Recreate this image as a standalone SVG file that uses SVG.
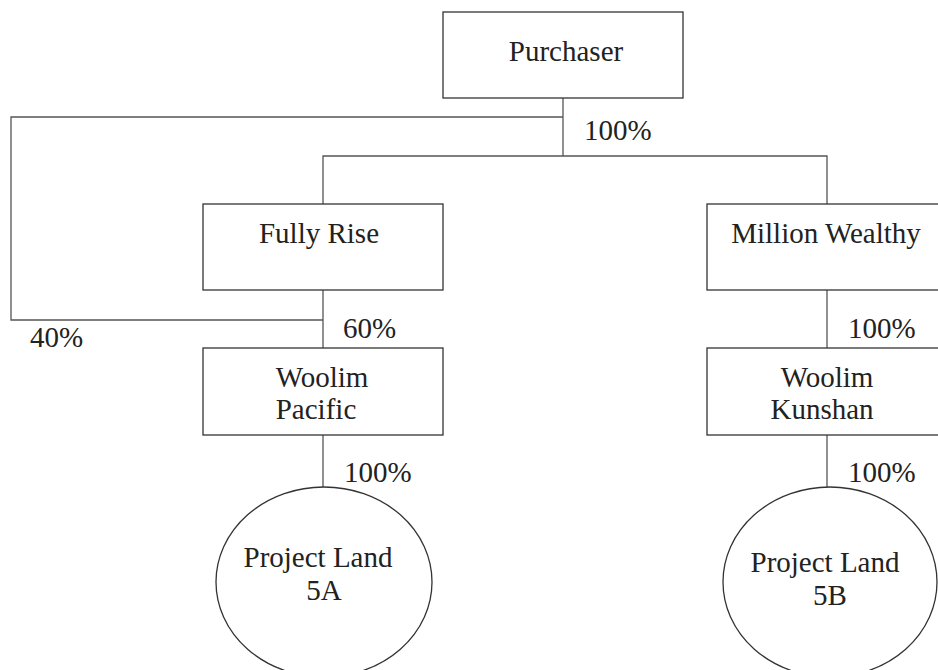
<svg xmlns="http://www.w3.org/2000/svg" width="938" height="670" viewBox="0 0 938 670">
<style>
.box{fill:#fff;stroke:#333;stroke-width:1.3}
.conn{fill:none;stroke:#555;stroke-width:1.3}
text{font-family:"Liberation Serif","Times New Roman",serif;font-size:29px;fill:#222}
.c{text-anchor:middle}
</style>
<rect width="938" height="670" fill="#fff"/>
<g id="connectors">
<polyline class="conn" points="563,98 563,156"/>
<polyline class="conn" points="563,117 11,117 11,320 323,320"/>
<polyline class="conn" points="323,204 323,156 827,156 827,204"/>
<polyline class="conn" points="323,290 323,348"/>
<polyline class="conn" points="827,290 827,348"/>
<polyline class="conn" points="323,435 323,487"/>
<polyline class="conn" points="827,435 827,487"/>
<text x="584" y="140">100%</text>
<text x="30" y="347">40%</text>
<text x="343" y="338">60%</text>
<text x="848" y="338">100%</text>
<text x="344" y="482">100%</text>
<text x="848" y="482">100%</text>
</g>
<g id="purchaser">
<rect class="box" x="443" y="12" width="240" height="86"/>
<text class="c" x="566" y="61">Purchaser</text>
</g>
<g id="fully-rise">
<rect class="box" x="203" y="204" width="240" height="86"/>
<text class="c" x="319" y="243">Fully Rise</text>
</g>
<g id="million-wealthy">
<rect class="box" x="707" y="204" width="240" height="86"/>
<text class="c" x="826" y="243">Million Wealthy</text>
</g>
<g id="woolim-pacific">
<rect class="box" x="203" y="348" width="240" height="87"/>
<text class="c" x="322" y="387">Woolim</text>
<text class="c" x="316" y="419">Pacific</text>
</g>
<g id="woolim-kunshan">
<rect class="box" x="707" y="348" width="240" height="87"/>
<text class="c" x="827" y="387">Woolim</text>
<text class="c" x="822" y="419">Kunshan</text>
</g>
<g id="project-land-5a">
<ellipse class="box" cx="324" cy="582" rx="108" ry="95"/>
<text class="c" x="318" y="567">Project Land</text>
<text class="c" x="324" y="600">5A</text>
</g>
<g id="project-land-5b">
<ellipse class="box" cx="830" cy="582" rx="107" ry="95"/>
<text class="c" x="825" y="572">Project Land</text>
<text class="c" x="830" y="605">5B</text>
</g>
</svg>
